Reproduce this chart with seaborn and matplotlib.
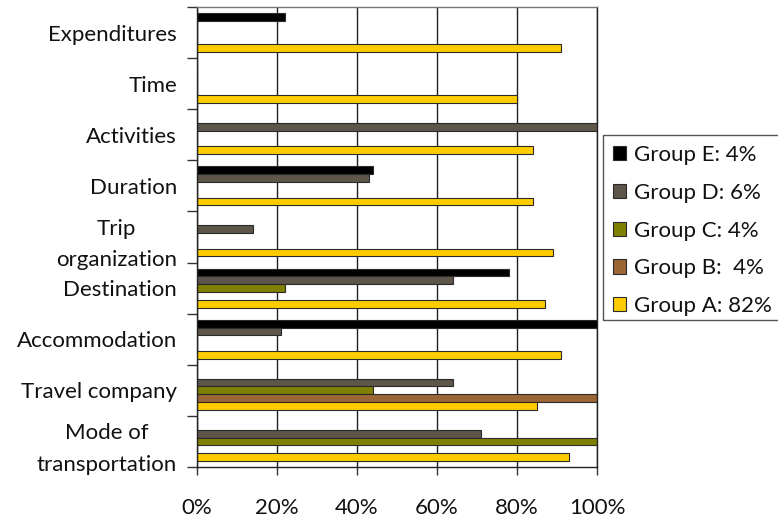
import matplotlib
matplotlib.use("Agg")
import matplotlib.pyplot as plt
import seaborn as sns
import pandas as pd
from matplotlib.patches import Rectangle
from matplotlib.ticker import FixedLocator, FuncFormatter

categories = [
    "Expenditures",
    "Time",
    "Activities",
    "Duration",
    "Trip\norganization",
    "Destination",
    "Accommodation",
    "Travel company",
    "Mode of\ntransportation",
]

groups = ["Group E: 4%", "Group D: 6%", "Group C: 4%", "Group B:  4%", "Group A: 82%"]

group_e = [22, 0, 0, 44, 0, 78, 100, 0, 0]
group_d = [0, 0, 100, 43, 14, 64, 21, 64, 71]
group_c = [0, 0, 0, 0, 0, 22, 0, 44, 100]
group_b = [0, 0, 0, 0, 0, 0, 0, 100, 0]
group_a = [91, 80, 84, 84, 89, 87, 91, 85, 93]

colors = ["#000000", "#5e564b", "#808000", "#9a6633", "#ffcc00"]

series = [group_e, group_d, group_c, group_b, group_a]
rows = []
for g, vals in zip(groups, series):
    for c, v in zip(categories, vals):
        rows.append({"category": c, "group": g, "value": v})
df = pd.DataFrame(rows)

sns.set_theme(style="white")
plt.rcParams["font.family"] = ["Lato", "DejaVu Sans"]

FS = 16

fig = plt.figure(figsize=(7.78, 5.21), dpi=100)
ax = fig.add_axes([197 / 778, 1 - 467 / 521, 400 / 778, 460 / 521])

sns.barplot(
    data=df, y="category", x="value", hue="group",
    order=categories, hue_order=groups, palette=colors,
    orient="h", width=0.76, dodge=True, ax=ax,
    edgecolor="#2a2a2a", linewidth=0.8, saturation=1,
)

ax.set_xlim(0, 100)
ax.set_ylim(len(categories) - 0.5, -0.5)
ax.set_xlabel("")
ax.set_ylabel("")

# x axis: percent ticks, gridlines at each step
ax.xaxis.set_major_locator(FixedLocator([0, 20, 40, 60, 80, 100]))
ax.xaxis.set_major_formatter(FuncFormatter(lambda v, p: f"{int(v)}%"))
ax.tick_params(axis="x", direction="out", length=6, width=1, color="#333333",
               pad=16, labelsize=FS, labelcolor="#111111", bottom=True)
ax.set_axisbelow(True)
ax.grid(axis="x", color="#222222", linewidth=1)
ax.grid(axis="y", visible=False)

# y axis: labels at category centres, ticks at category boundaries
ax.set_yticks(range(len(categories)))
ax.set_yticklabels(categories, multialignment="center", linespacing=1.7)
ax.tick_params(axis="y", which="major", length=0, pad=14.4, labelsize=FS,
               labelcolor="#111111")
ax.set_yticks([i - 0.5 for i in range(len(categories) + 1)], minor=True)
ax.tick_params(axis="y", which="minor", direction="out", length=7, width=1,
               color="#333333", left=True)

for s in ax.spines.values():
    s.set_visible(True)
    s.set_color("#222222")
    s.set_linewidth(1)
ax.spines["top"].set_color("#777777")

handles, labels = ax.get_legend_handles_labels()
leg = ax.legend(
    handles, labels, loc="upper left",
    bbox_to_anchor=(603 / 778, 1 - 135 / 521), bbox_transform=fig.transFigure,
    frameon=False, fontsize=FS, labelspacing=0.8,
    handlelength=0.6, handleheight=0.6,
    handletextpad=0.35, borderpad=0.45, borderaxespad=0,
)
for t in leg.get_texts():
    t.set_color("#111111")

# legend border that runs off the right edge of the figure
fig.patches.append(Rectangle(
    (603 / 778, 1 - 320 / 521), 220 / 778, 185 / 521,
    transform=fig.transFigure, fill=False, edgecolor="#555555", linewidth=1,
))

fig.savefig("out.png", dpi=100, facecolor="white")
